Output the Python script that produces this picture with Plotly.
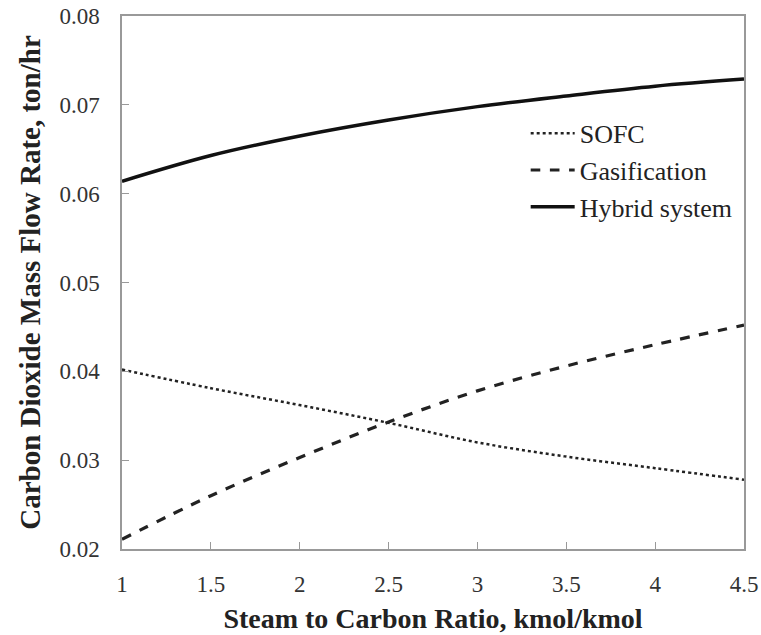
import plotly.graph_objects as go

steam_ratio = [1.0, 1.5, 2.0, 2.5, 3.0, 3.5, 4.0, 4.5]
sofc = [0.0402, 0.0381, 0.0362, 0.0342, 0.0320, 0.0304, 0.0291, 0.0278]
gasification = [0.0211, 0.0260, 0.0303, 0.0343, 0.0378, 0.0406, 0.0430, 0.0452]
hybrid = [0.0614, 0.0643, 0.0665, 0.0683, 0.0698, 0.0710, 0.0721, 0.0729]

x_ticks = [1, 1.5, 2, 2.5, 3, 3.5, 4, 4.5]
y_ticks = [0.02, 0.03, 0.04, 0.05, 0.06, 0.07, 0.08]

font_family = "Liberation Serif"

fig = go.Figure()
fig.add_trace(go.Scatter(x=steam_ratio, y=sofc, mode="lines", name="SOFC",
                         line=dict(color="#222", width=2.5, dash="dot", shape="spline")))
fig.add_trace(go.Scatter(x=steam_ratio, y=gasification, mode="lines", name="Gasification",
                         line=dict(color="#222", width=3.2, dash="dash", shape="spline")))
fig.add_trace(go.Scatter(x=steam_ratio, y=hybrid, mode="lines", name="Hybrid system",
                         line=dict(color="#111", width=3.5, shape="spline")))

axis_common = dict(showline=True, linecolor="#999", linewidth=1.5, mirror=True,
                   ticks="inside", ticklen=7, tickcolor="#999", showgrid=False,
                   zeroline=False, automargin=False,
                   tickfont=dict(family=font_family, size=23, color="#333"))

fig.update_layout(
    width=761, height=635,
    margin=dict(l=122, r=17, t=16, b=86),
    plot_bgcolor="white", paper_bgcolor="white",
    font=dict(family=font_family, color="#222"),
    xaxis=dict(range=[1, 4.5], tickvals=x_ticks, ticktext=[str(v) for v in x_ticks],
               ticklabelstandoff=14,
               title=dict(text="<b>Steam to Carbon Ratio, kmol/kmol</b>",
                          font=dict(family=font_family, size=28, color="#222"), standoff=12),
               **axis_common),
    yaxis=dict(range=[0.02, 0.08], tickvals=y_ticks, ticktext=[f"{v:.2f}" for v in y_ticks],
               ticklabelstandoff=16,
               title=dict(text="<b>Carbon Dioxide Mass Flow Rate, ton/hr</b>",
                          font=dict(family=font_family, size=29, color="#222"), standoff=10),
               **axis_common),
    legend=dict(x=0.649, y=0.824, xanchor="left", yanchor="top",
                bgcolor="rgba(0,0,0,0)", font=dict(family=font_family, size=26, color="#222"),
                tracegroupgap=2, itemwidth=44),
    showlegend=True,
)

fig.write_html("out.html")
